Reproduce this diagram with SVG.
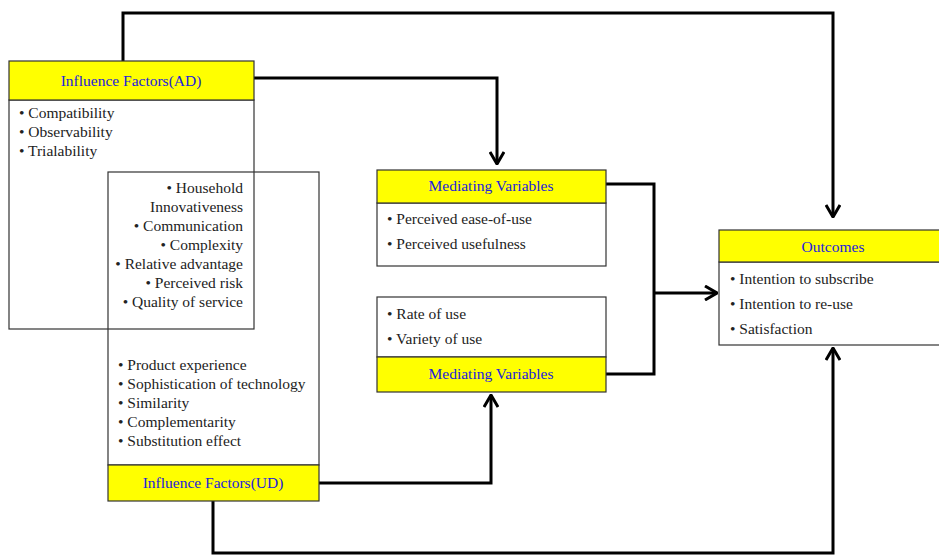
<svg xmlns="http://www.w3.org/2000/svg" width="939" height="556" viewBox="0 0 939 556">
<style>
.hdr{fill:#ffff00;stroke:#333;stroke-width:1.2}
.body{fill:#fff;stroke:#333;stroke-width:1.2}
.open{fill:none;stroke:#333;stroke-width:1.2}
text{font-family:"Liberation Serif","Times New Roman",serif;font-size:15.5px}
.ht{fill:#2222dd;text-anchor:middle}
.it{fill:#222}
.r{text-anchor:end}
.conn{fill:none;stroke:#000;stroke-width:3}
</style>
<defs>
<marker id="arr" viewBox="0 0 14 16" refX="13" refY="8" markerWidth="14" markerHeight="16" markerUnits="userSpaceOnUse" orient="auto">
<path d="M1,1 L13,8 L1,15" fill="none" stroke="#000" stroke-width="3"/>
</marker>
</defs>
<rect width="939" height="556" fill="#fff"/>
<g id="connectors">
<path class="conn" d="M123,61 V13 H833 V217" marker-end="url(#arr)"/>
<path class="conn" d="M254,78 H497 V164" marker-end="url(#arr)"/>
<path class="conn" d="M606,184 H654 V374 H606"/>
<path class="conn" d="M654,293 H717" marker-end="url(#arr)"/>
<path class="conn" d="M319,483 H491 V395" marker-end="url(#arr)"/>
<path class="conn" d="M213,501 V553 H833 V348" marker-end="url(#arr)"/>
</g>
<g id="ad">
<rect class="body" x="9" y="100" width="245" height="229"/>
<rect class="hdr" x="9" y="61" width="245" height="39"/>
<text class="ht" x="131" y="86">Influence Factors(AD)</text>
<text class="it" x="19" y="118">• Compatibility</text>
<text class="it" x="19" y="137">• Observability</text>
<text class="it" x="19" y="156">• Trialability</text>
</g>
<g id="ud">
<rect class="open" x="108" y="172" width="211" height="293"/>
<rect class="hdr" x="108" y="465" width="211" height="36"/>
<text class="ht" x="213" y="488">Influence Factors(UD)</text>
<text class="it r" x="243" y="193">• Household</text>
<text class="it r" x="243" y="212">Innovativeness</text>
<text class="it r" x="243" y="231">• Communication</text>
<text class="it r" x="243" y="250">• Complexity</text>
<text class="it r" x="243" y="269">• Relative advantage</text>
<text class="it r" x="243" y="288">• Perceived risk</text>
<text class="it r" x="243" y="307">• Quality of service</text>
<text class="it" x="118" y="370">• Product experience</text>
<text class="it" x="118" y="389">• Sophistication of technology</text>
<text class="it" x="118" y="408">• Similarity</text>
<text class="it" x="118" y="427">• Complementarity</text>
<text class="it" x="118" y="446">• Substitution effect</text>
</g>
<g id="med1">
<rect class="body" x="377" y="203" width="229" height="63"/>
<rect class="hdr" x="377" y="170" width="229" height="33"/>
<text class="ht" x="491" y="191">Mediating Variables</text>
<text class="it" x="387" y="224">• Perceived ease-of-use</text>
<text class="it" x="387" y="249">• Perceived usefulness</text>
</g>
<g id="med2">
<rect class="body" x="377" y="297" width="229" height="60"/>
<rect class="hdr" x="377" y="357" width="229" height="35"/>
<text class="ht" x="491" y="379">Mediating Variables</text>
<text class="it" x="387" y="319">• Rate of use</text>
<text class="it" x="387" y="344">• Variety of use</text>
</g>
<g id="outcomes">
<rect class="body" x="719" y="262" width="225" height="83"/>
<rect class="hdr" x="719" y="230" width="225" height="32"/>
<text class="ht" x="833" y="252">Outcomes</text>
<text class="it" x="730" y="284">• Intention to subscribe</text>
<text class="it" x="730" y="309">• Intention to re-use</text>
<text class="it" x="730" y="334">• Satisfaction</text>
</g>
</svg>
